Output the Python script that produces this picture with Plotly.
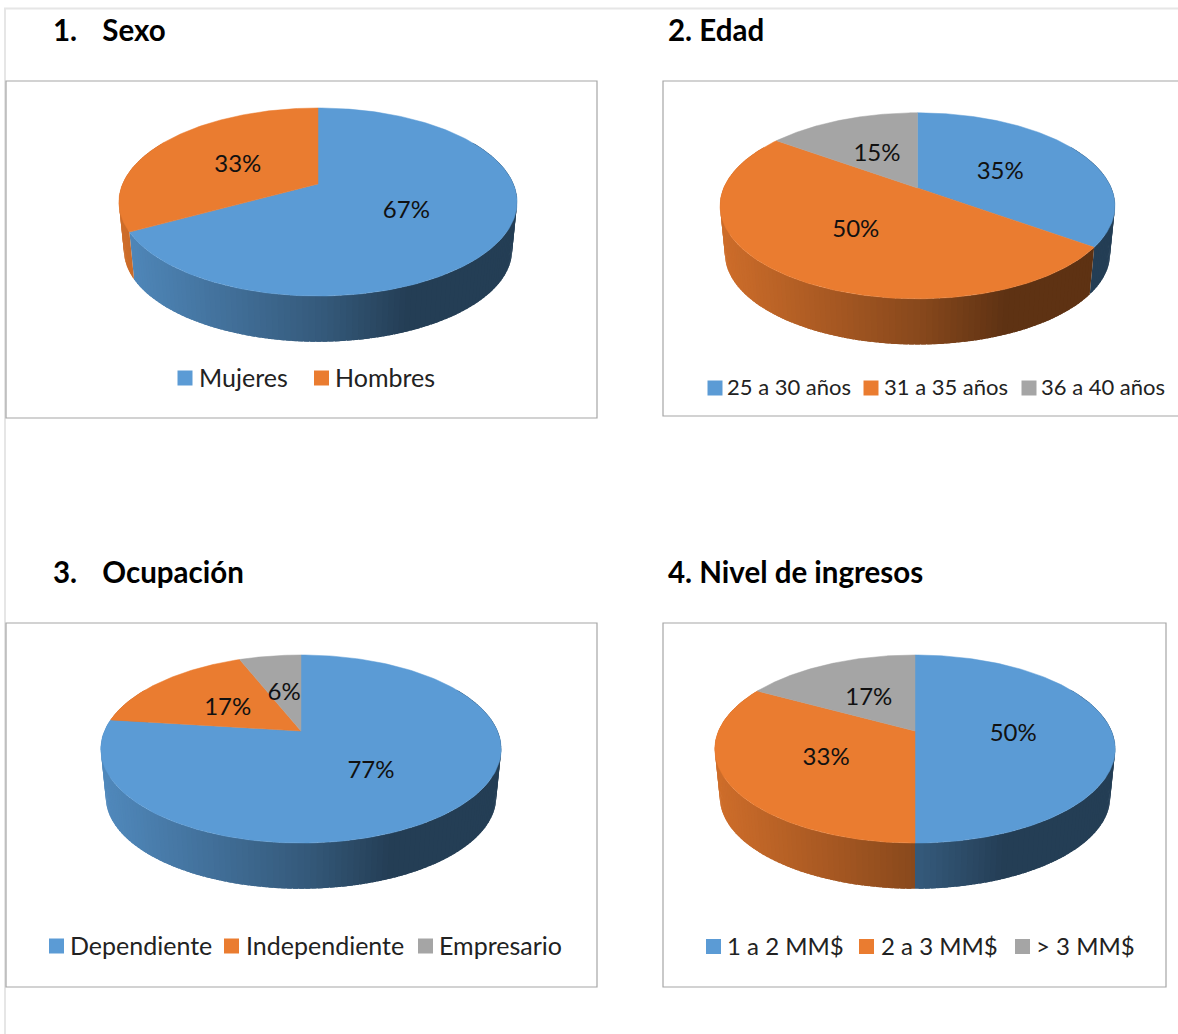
import numpy as np
import plotly.graph_objects as go

# Survey results, one small table per question
sexo_labels = ["Mujeres", "Hombres"]
sexo_values = [67, 33]

edad_labels = ["25 a 30 años", "31 a 35 años", "36 a 40 años"]
edad_values = [35, 50, 15]

ocupacion_labels = ["Dependiente", "Independiente", "Empresario"]
ocupacion_values = [77, 17, 6]

ingresos_labels = ["1 a 2 MM$", "2 a 3 MM$", "> 3 MM$"]
ingresos_values = [50, 33, 17]

titles = ["1.\u00a0\u00a0\u00a0\u2009Sexo", "2. Edad", "3.\u00a0\u00a0\u00a0\u2009Ocupación", "4. Nivel de ingresos"]

# Page layout in pixels: frame, pie centre, disc size and legend placement for each panel
W, H = 1178, 1034
panels = [
    dict(labels=sexo_labels, values=sexo_values, title=titles[0], title_xy=(51, 29.5),
         box=(6, 81, 597, 418), cx=318, cy=184, sx=195.4, sy=90.6,
         legend_y=376.5, swatch_x=[185, 321.5], text_x=[197, 333], legend_size=25),
    dict(labels=edad_labels, values=edad_values, title=titles[1], title_xy=(666, 29.5),
         box=(663, 81, 1190, 416), cx=917.5, cy=188, sx=193.8, sy=89.6,
         legend_y=386.5, swatch_x=[715, 871, 1029], text_x=[725, 882, 1039], legend_size=22),
    dict(labels=ocupacion_labels, values=ocupacion_values, title=titles[2], title_xy=(51, 571.5),
         box=(6, 623, 597, 987), cx=301, cy=731, sx=196.5, sy=90.6,
         legend_y=944.5, swatch_x=[56.5, 231.5, 425.5], text_x=[68, 243.5, 436.5], legend_size=25),
    dict(labels=ingresos_labels, values=ingresos_values, title=titles[3], title_xy=(666, 571.5),
         box=(663, 623, 1166, 987), cx=915, cy=731, sx=196.5, sy=90.6,
         legend_y=945, swatch_x=[713.5, 866.5, 1022.5], text_x=[725, 879, 1034], legend_size=24),
]

BASE_COLORS = [(91, 155, 213), (234, 124, 48), (165, 165, 165)]
TEXT_FONT = "Lato, Carlito, Calibri, sans-serif"

# Perspective of the tilted disc
PERSP = 0.1915
DEPTH = 48.5
RIM_SHRINK = 0.975
LABEL_DROP = 4.0


def disc_xy(angle_deg, radius, p):
    """Project a polar position on the disc (clockwise from 12 o'clock) to the page."""
    a = np.radians(angle_deg)
    gx = radius * np.sin(a)
    gy = radius * np.cos(a)
    d = 1 + PERSP * gy
    return p["cx"] + p["sx"] * gx / d, p["cy"] - p["sy"] * gy / d


def side_color(base, x, cx):
    """Shade the side wall: lit on the left, falling off towards the right."""
    t = (x - (cx - 199)) / 398
    f = float(np.interp(t, [0.0, 0.5, 0.72, 1.0], [0.88, 0.58, 0.40, 0.40]))
    return "rgb({},{},{})".format(*[int(round(c * f)) for c in base])


fig = go.Figure()
shapes = [
    # Light page frame along the top and left edges
    dict(type="line", x0=4, y0=8.5, x1=W, y1=8.5, line=dict(color="#e6e6e6", width=2), layer="below"),
    dict(type="line", x0=5, y0=8, x1=5, y1=H, line=dict(color="#e6e6e6", width=2), layer="below"),
]
annotations = []

for p in panels:
    cx, cy = p["cx"], p["cy"]
    shares = np.array(p["values"], dtype=float)
    edges = np.concatenate([[0.0], np.cumsum(shares) / shares.sum() * 360.0])

    x0, y0, x1, y1 = p["box"]
    shapes.append(dict(type="rect", x0=x0, y0=y0, x1=x1, y1=y1,
                       line=dict(color="#a6a6a6", width=1.2), layer="below"))

    # Side wall, split into thin overlapping strips so the shading reads as a gradient
    strips = []
    for i in range(len(shares)):
        base = BASE_COLORS[i]
        lo, hi = max(edges[i], 60.0), min(edges[i + 1], 300.0)
        if hi <= lo:
            continue
        n = max(1, int(np.ceil((hi - lo) / 1.5)))
        steps = np.linspace(lo, hi, n + 1)
        for a0, a1 in zip(steps[:-1], steps[1:]):
            strips.append((a0, a1, base, lo, hi))
    for a0, a1, base, lo, hi in strips:
        # Each strip reaches a little under its neighbour to hide seams
        arc = np.linspace(max(lo, a0 - 0.6), min(hi, a1 + 0.6), 3)
        tx, ty = disc_xy(arc, 1.0, p)
        bx = cx + (tx[::-1] - cx) * RIM_SHRINK
        by = cy + (ty[::-1] - cy) * RIM_SHRINK + DEPTH
        mid_x, _ = disc_xy(np.array([(a0 + a1) / 2]), 1.0, p)
        color = side_color(base, float(mid_x[0]), cx)
        fig.add_trace(go.Scatter(
            x=list(tx) + list(bx) + [tx[0]], y=list(ty) + list(by) + [ty[0]],
            mode="lines", fill="toself", fillcolor=color,
            line=dict(color=color, width=0), hoverinfo="skip", showlegend=False))

    # Top face
    for i, (label, value) in enumerate(zip(p["labels"], p["values"])):
        color = "rgb({},{},{})".format(*BASE_COLORS[i])
        arc = np.linspace(edges[i], edges[i + 1], 200)
        ax, ay = disc_xy(arc, 1.0, p)
        fig.add_trace(go.Scatter(
            x=[cx] + list(ax) + [cx], y=[cy] + list(ay) + [cy],
            mode="lines", fill="toself", fillcolor=color,
            line=dict(color=color, width=0.5), name=label,
            hovertemplate=f"{label}: {value}%<extra></extra>", showlegend=False))

    # Percentage labels at mid radius of each slice
    mids = (edges[:-1] + edges[1:]) / 2
    lx, ly = disc_xy(mids, 0.5, p)
    fig.add_trace(go.Scatter(
        x=lx, y=ly + LABEL_DROP, mode="text", text=[f"{v}%" for v in p["values"]],
        textposition="middle center", hoverinfo="skip", showlegend=False,
        textfont=dict(family=TEXT_FONT, size=24, color="#111111")))

    # Legend row
    fig.add_trace(go.Scatter(
        x=p["swatch_x"], y=[p["legend_y"] + 1.5] * len(p["labels"]), mode="markers",
        marker=dict(symbol="square", size=15, color=[f"rgb{BASE_COLORS[i]}" for i in range(len(p["labels"]))]),
        hoverinfo="skip", showlegend=False))
    for label, tx in zip(p["labels"], p["text_x"]):
        annotations.append(dict(x=tx, y=p["legend_y"], text=label, showarrow=False,
                                xanchor="left", yanchor="middle",
                                font=dict(family=TEXT_FONT, size=p["legend_size"], color="#222222")))

    annotations.append(dict(x=p["title_xy"][0], y=p["title_xy"][1], text=f"<b>{p['title']}</b>",
                            showarrow=False, xanchor="left", yanchor="middle",
                            font=dict(family=TEXT_FONT, size=29.5, color="#000000")))

fig.update_layout(
    width=W, height=H, margin=dict(l=0, r=0, t=0, b=0),
    paper_bgcolor="white", plot_bgcolor="white", showlegend=False,
    xaxis=dict(range=[0, W], visible=False, fixedrange=True),
    yaxis=dict(range=[H, 0], visible=False, fixedrange=True),
    shapes=shapes, annotations=annotations,
)

fig.write_html("out.html", config={"displayModeBar": False})
